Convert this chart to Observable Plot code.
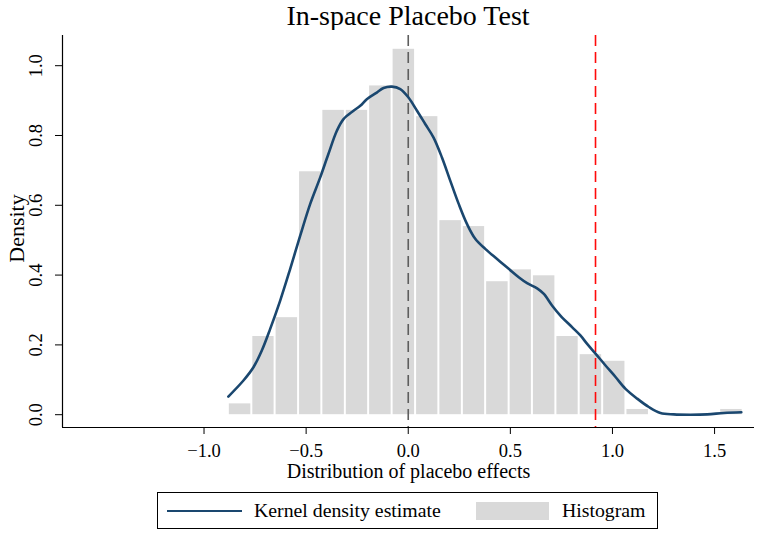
<!DOCTYPE html>
<html>
<head>
<meta charset="utf-8">
<script src="https://cdn.jsdelivr.net/npm/d3@7"></script>
<script src="https://cdn.jsdelivr.net/npm/@observablehq/plot@0.6"></script>
<style>
  html, body { margin: 0; padding: 0; background: #fff; }
  #wrap { position: relative; width: 761px; height: 537px; font-family: "Liberation Serif", "Times New Roman", serif; color: #000; }
  #title { position: absolute; left: 62px; width: 692px; top: 2px; text-align: center; font-size: 28px; line-height: 28px; white-space: nowrap; }
  #chart { position: absolute; left: 0; top: 30px; }
  #legend { position: absolute; left: 157px; top: 492px; width: 499px; height: 35px; border: 1px solid #000; box-sizing: content-box; font-size: 19.8px; }
  .lg { position: absolute; white-space: nowrap; line-height: 20px; }
</style>
</head>
<body>
<div id="wrap">
  <div id="title">In-space Placebo Test</div>
  <div id="chart"></div>
  <div id="legend">
    <div class="lg" style="left:9px; top:16.5px; width:75px; height:2.6px; background:#1a476f;"></div>
    <div class="lg" style="left:96px; top:7px;">Kernel density estimate</div>
    <div class="lg" style="left:318px; top:9px; width:73px; height:18px; background:#d9d9d9;"></div>
    <div class="lg" style="left:404px; top:7px;">Histogram</div>
  </div>
</div>
<script>
// Histogram bins (left edges, right edges) and densities
const binLeft = [-0.881, -0.766, -0.652, -0.537, -0.423, -0.308, -0.194, -0.079, 0.036, 0.150, 0.265, 0.379, 0.494, 0.608, 0.723, 0.837, 0.952, 1.066, 1.181, 1.296, 1.410, 1.525];
const binRight = [-0.766, -0.652, -0.537, -0.423, -0.308, -0.194, -0.079, 0.036, 0.150, 0.265, 0.379, 0.494, 0.608, 0.723, 0.837, 0.952, 1.066, 1.181, 1.296, 1.410, 1.525, 1.640];
const binDensity = [0.031, 0.224, 0.278, 0.696, 0.872, 0.872, 0.942, 1.047, 0.854, 0.556, 0.539, 0.381, 0.415, 0.398, 0.224, 0.172, 0.153, 0.015, 0, 0, 0, 0.015];

// Kernel density estimate curve
const kdeX = [-0.881, -0.807, -0.758, -0.717, -0.676, -0.627, -0.578, -0.529, -0.480, -0.431, -0.391, -0.350, -0.317, -0.268, -0.235, -0.203, -0.154, -0.121, -0.080, -0.039, 0.001, 0.043, 0.083, 0.124, 0.165, 0.206, 0.247, 0.288, 0.328, 0.377, 0.435, 0.492, 0.541, 0.582, 0.631, 0.664, 0.704, 0.745, 0.802, 0.843, 0.876, 0.917, 0.966, 1.015, 1.064, 1.121, 1.178, 1.235, 1.300, 1.382, 1.464, 1.546, 1.631];
const kdeY = [0.052, 0.098, 0.136, 0.184, 0.246, 0.327, 0.418, 0.513, 0.604, 0.680, 0.747, 0.813, 0.847, 0.871, 0.885, 0.904, 0.923, 0.936, 0.940, 0.933, 0.909, 0.871, 0.833, 0.794, 0.737, 0.670, 0.604, 0.546, 0.504, 0.475, 0.446, 0.418, 0.394, 0.377, 0.362, 0.346, 0.313, 0.284, 0.251, 0.227, 0.203, 0.175, 0.141, 0.108, 0.074, 0.046, 0.022, 0.005, 0.001, 0.000, 0.001, 0.005, 0.007];

// Reference lines
const zeroLine = [0];
const actualEffect = [0.917];

// Axes
const xTicks = [-1.0, -0.5, 0.0, 0.5, 1.0, 1.5];
const yTicks = [0.0, 0.2, 0.4, 0.6, 0.8, 1.0];
const xDomain = [-1.693, 1.6955];
const yDomain = [-0.0367, 1.0865];

const bins = binLeft.map((x1, i) => ({x1, x2: binRight[i], y: binDensity[i]})).filter(d => d.y > 0);
const kde = kdeX.map((x, i) => ({x, y: kdeY[i]}));
const fmt = d3.format(".1f");
const tickFont = 18.5;

const plot = Plot.plot({
  width: 761,
  height: 460,
  marginTop: 5,
  marginBottom: 63,
  marginLeft: 62,
  marginRight: 7,
  style: {fontFamily: "'Liberation Serif', 'Times New Roman', serif", fontSize: "18.5px", background: "#fff", overflow: "visible", color: "#000"},
  x: {domain: xDomain, axis: null},
  y: {domain: yDomain, axis: null},
  marks: [
    Plot.rectY(bins, {x1: "x1", x2: "x2", y: "y", fill: "#d9d9d9", insetLeft: 1, insetRight: 1}),
    Plot.ruleX(zeroLine, {stroke: "#5e5e5e", strokeWidth: 1.6, strokeDasharray: "11,6"}),
    Plot.ruleX(actualEffect, {stroke: "#ff0a0a", strokeWidth: 1.6, strokeDasharray: "11,6"}),
    Plot.line(kde, {x: "x", y: "y", stroke: "#1a476f", strokeWidth: 2.6, curve: "catmull-rom"}),
    Plot.ruleY([yDomain[0]], {stroke: "#000", strokeWidth: 1.2}),
    Plot.ruleX([xDomain[0]], {stroke: "#000", strokeWidth: 1.2}),
    Plot.axisX({ticks: xTicks, tickSize: 7, tickPadding: 9, tickFormat: fmt, label: null, stroke: "#000", fill: "#000", fontSize: tickFont}),
    Plot.axisY({ticks: yTicks, tickSize: 7, tickFormat: () => "", label: null, stroke: "#000"}),
    Plot.text(yTicks, {y: d => d, text: d => fmt(d), frameAnchor: "left", dx: -26, rotate: -90, textAnchor: "middle", lineAnchor: "middle", fill: "#000", fontSize: tickFont}),
    Plot.text(["Density"], {frameAnchor: "left", dx: -46, dy: -3, rotate: -90, textAnchor: "middle", lineAnchor: "middle", fontSize: 22, fill: "#000"}),
    Plot.text(["Distribution of placebo effects"], {frameAnchor: "bottom", dy: 36, lineAnchor: "top", fontSize: 20, fill: "#000"})
  ]
});
document.getElementById("chart").appendChild(plot);
</script>
</body>
</html>
